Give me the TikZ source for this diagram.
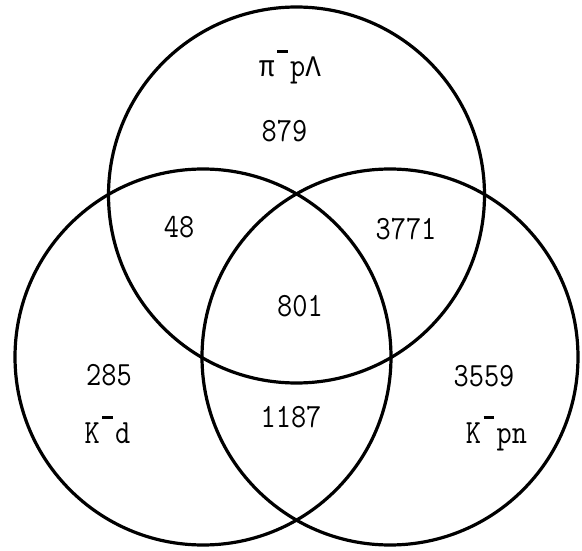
\documentclass[tikz,border=0pt]{standalone}
\usepackage{fontspec}
\newfontfamily\grk[Scale=0.88]{Liberation Mono}
\newcommand{\mcell}[1]{\makebox[0.525em]{#1}}
\newcommand{\mbar}{\mcell{\raisebox{0.7em}{\rule{0.36em}{0.09em}}}}
\newcommand{\tall}[1]{\scalebox{1}[1.15]{#1}}
\begin{document}
\begin{tikzpicture}[x=1pt,y=-1pt,
  venn/.style={circle,draw,line width=3.2pt,minimum size=376pt,inner sep=0pt},
  lbl/.style={anchor=base,inner sep=0pt,font=\fontsize{29.5}{32}\selectfont\ttfamily}]
\useasboundingbox (0,0) rectangle (582,551);
\node[venn] (top) at (296.5,195) {};
\node[venn] (left) at (203,357) {};
\node[venn] (right) at (390,357) {};
\node[lbl] (ltop) at (290,77) {\tall{\mcell{\grk π}\mbar p\mcell{\grk Λ}}};
\node[lbl] (n879) at (284.5,142) {\tall{879}};
\node[lbl] (n48) at (179,237) {\tall{48}};
\node[lbl] (n3771) at (406,239) {\tall{3771}};
\node[lbl] (n801) at (300,316) {\tall{801}};
\node[lbl] (n285) at (109,385) {\tall{285}};
\node[lbl] (n3559) at (484,386) {\tall{3559}};
\node[lbl] (n1187) at (291,427) {\tall{1187}};
\node[lbl] (lleft) at (107.5,443) {\tall{K\mbar d}};
\node[lbl] (lright) at (496.5,443) {\tall{K\mbar pn}};
\end{tikzpicture}
\end{document}
